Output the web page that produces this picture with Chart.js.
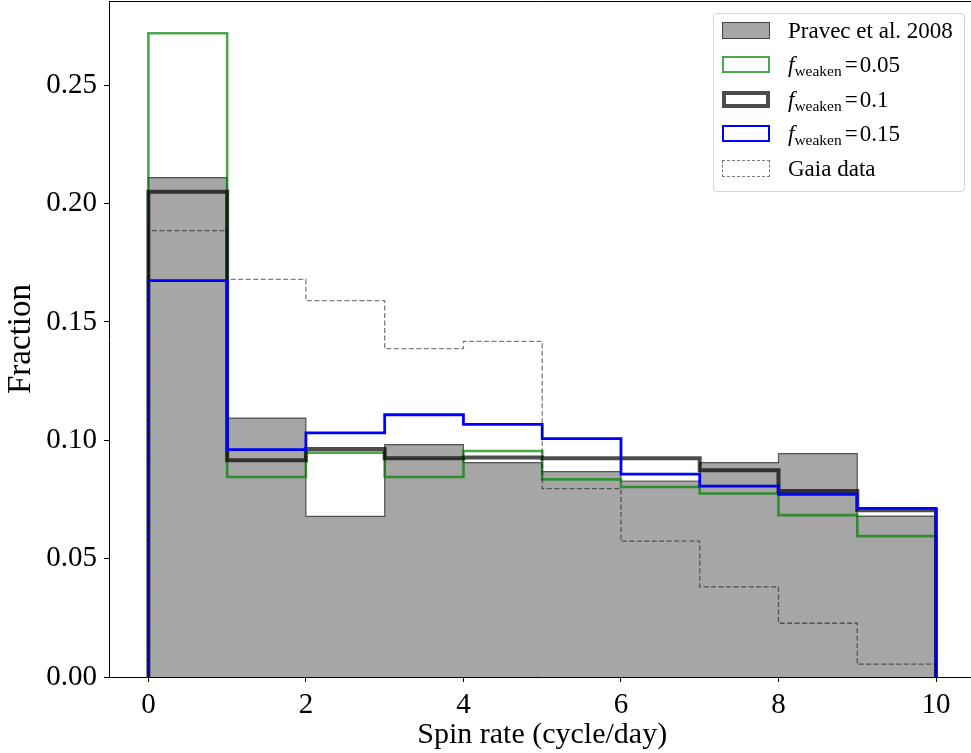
<!DOCTYPE html>
<html>
<head>
<meta charset="utf-8">
<script src="https://cdn.jsdelivr.net/npm/chart.js@4.4.0/dist/chart.umd.min.js"></script>
<style>
    html, body { margin: 0; padding: 0; background: #fff; overflow: hidden; }
    #wrap { position: relative; width: 971px; height: 753px; overflow: hidden; }
    #chart { position: absolute; left: 0; top: 0; }
    #legend {
        position: absolute; left: 713px; top: 13px; width: 252px; height: 179px;
        box-sizing: border-box; border: 1px solid #d4d4d4; border-radius: 4px;
        background: rgba(255, 255, 255, 0.8);
        font-family: 'Liberation Serif', 'Times New Roman', serif; font-size: 23px; color: #000;
    }
    .patch { position: absolute; left: 8px; width: 48px; height: 17px; box-sizing: border-box; }
    .label { position: absolute; left: 74px; white-space: nowrap; line-height: 23px; }
    .label i { font-style: italic; }
    .label sub { font-size: 15.5px; vertical-align: -4px; line-height: 0; }
    .label .eq { margin: 0 2px 0 3px; }
</style>
</head>
<body>
<div id="wrap">
    <canvas id="chart" width="990" height="753"></canvas>
    <div id="legend"></div>
</div>
<script>
// Histogram bins (cycle/day)
const binEdges = [0, 1, 2, 3, 4, 5, 6, 7, 8, 9, 10];

// Fractions per bin
const pravec2008 = [0.211, 0.1094, 0.0679, 0.0982, 0.0906, 0.0868, 0.0828, 0.0906, 0.0944, 0.068];
const weaken005 = [0.272, 0.0845, 0.0948, 0.0845, 0.0955, 0.0835, 0.0803, 0.0775, 0.0684, 0.0595];
const weaken010 = [0.205, 0.0916, 0.0963, 0.0924, 0.0927, 0.0924, 0.0924, 0.0873, 0.0786, 0.0705];
const weaken015 = [0.1675, 0.0961, 0.1031, 0.1108, 0.1067, 0.1007, 0.0857, 0.0806, 0.0772, 0.0712];
const gaiaData = [0.1886, 0.168, 0.159, 0.1387, 0.1418, 0.0796, 0.0574, 0.0381, 0.0227, 0.0054];

const fWeaken = ['0.05', '0.1', '0.15'];
const xTicks = [0, 2, 4, 6, 8, 10];
const yTicks = [0, 0.05, 0.1, 0.15, 0.2, 0.25];

const serif = "'Liberation Serif', 'Times New Roman', serif";

// Turn bin values into a step outline (like histtype='step')
function stepOutline(values) {
    const pts = [{x: binEdges[0], y: 0}];
    values.forEach(function(v, i) {
        pts.push({x: binEdges[i], y: v});
        pts.push({x: binEdges[i + 1], y: v});
    });
    pts.push({x: binEdges[binEdges.length - 1], y: 0});
    return pts;
}

// Top spine (right one falls outside the picture)
const frameLines = {
    id: 'frameLines',
    afterDraw(chart) {
        const {ctx, chartArea: a} = chart;
        ctx.save();
        ctx.strokeStyle = '#000';
        ctx.lineWidth = 1;
        ctx.beginPath();
        ctx.moveTo(a.left, a.top + 0.5);
        ctx.lineTo(a.right, a.top + 0.5);
        ctx.stroke();
        ctx.restore();
    }
};

const datasets = [
    {label: 'Pravec et al. 2008', data: stepOutline(pravec2008), borderColor: 'rgba(0,0,0,0.6)',
        borderWidth: 1.2, backgroundColor: 'rgba(128,128,128,0.7)', fill: 'origin', order: 5},
    {label: 'f_weaken=0.05', data: stepOutline(weaken005), borderColor: 'rgba(0,128,0,0.7)',
        borderWidth: 2.6, fill: false, order: 4},
    {label: 'f_weaken=0.1', data: stepOutline(weaken010), borderColor: 'rgba(0,0,0,0.7)',
        borderWidth: 4, fill: false, order: 3},
    {label: 'f_weaken=0.15', data: stepOutline(weaken015), borderColor: '#0000ff',
        borderWidth: 2.8, fill: false, order: 2},
    {label: 'Gaia data', data: stepOutline(gaiaData), borderColor: 'rgba(0,0,0,0.5)',
        borderWidth: 1.3, borderDash: [5, 2.5], fill: false, order: 1}
];

const ctx = document.getElementById('chart').getContext('2d');
new Chart(ctx, {
    type: 'line',
    data: {datasets: datasets},
    options: {
        responsive: false,
        animation: false,
        layout: {padding: {left: 0, right: 14.6, top: 1, bottom: 0}},
        elements: {
            point: {radius: 0},
            line: {tension: 0, borderJoinStyle: 'miter', borderCapStyle: 'butt'}
        },
        plugins: {legend: {display: false}, tooltip: {enabled: false}},
        scales: {
            x: {
                type: 'linear', min: -0.5, max: 10.5,
                afterBuildTicks: function(s) { s.ticks = xTicks.map(v => ({value: v})); },
                afterFit: function(s) { s.height = 76; s.paddingLeft = 0; s.paddingRight = 0; },
                ticks: {font: {family: serif, size: 29}, color: '#000', padding: 6, maxRotation: 0,
                    callback: v => String(v)},
                grid: {drawOnChartArea: false, color: '#000', tickLength: 5},
                border: {color: '#000', width: 1},
                title: {display: true, text: 'Spin rate (cycle/day)', color: '#000',
                    font: {family: serif, size: 30}, padding: 0}
            },
            y: {
                min: 0, max: 0.2856,
                afterBuildTicks: function(s) { s.ticks = yTicks.map(v => ({value: v})); },
                afterFit: function(s) { s.width = 109; s.paddingTop = 0; s.paddingBottom = 0; },
                ticks: {font: {family: serif, size: 29}, color: '#000', padding: 7,
                    callback: v => v.toFixed(2)},
                grid: {drawOnChartArea: false, color: '#000', tickLength: 5},
                border: {color: '#000', width: 1},
                title: {display: true, text: 'Fraction', color: '#000',
                    font: {family: serif, size: 33}, padding: {top: 2, bottom: 0}}
            }
        }
    },
    plugins: [frameLines]
});

// Legend (HTML so the subscript can be set)
const legendPatches = [
    'background:#a6a6a6; border:1.2px solid rgba(0,0,0,0.6);',
    'background:#fff; border:2.6px solid rgba(0,128,0,0.7);',
    'background:#fff; border:4px solid rgba(0,0,0,0.7);',
    'background:#fff; border:2.8px solid #0000ff;',
    'background:#fff; border:1.2px dashed rgba(0,0,0,0.5);'
];
const legendLabels = ['Pravec et al. 2008']
    .concat(fWeaken.map(v => '<i>f</i><sub>weaken</sub><span class="eq">=</span>' + v))
    .concat(['Gaia data']);

const legend = document.getElementById('legend');
legendLabels.forEach(function(text, i) {
    const top = 8 + i * 34.4;
    legend.insertAdjacentHTML('beforeend',
        '<div class="patch" style="top:' + top + 'px;' + legendPatches[i] + '"></div>' +
        '<div class="label" style="top:' + (top - 3) + 'px;">' + text + '</div>');
});
</script>
</body>
</html>
